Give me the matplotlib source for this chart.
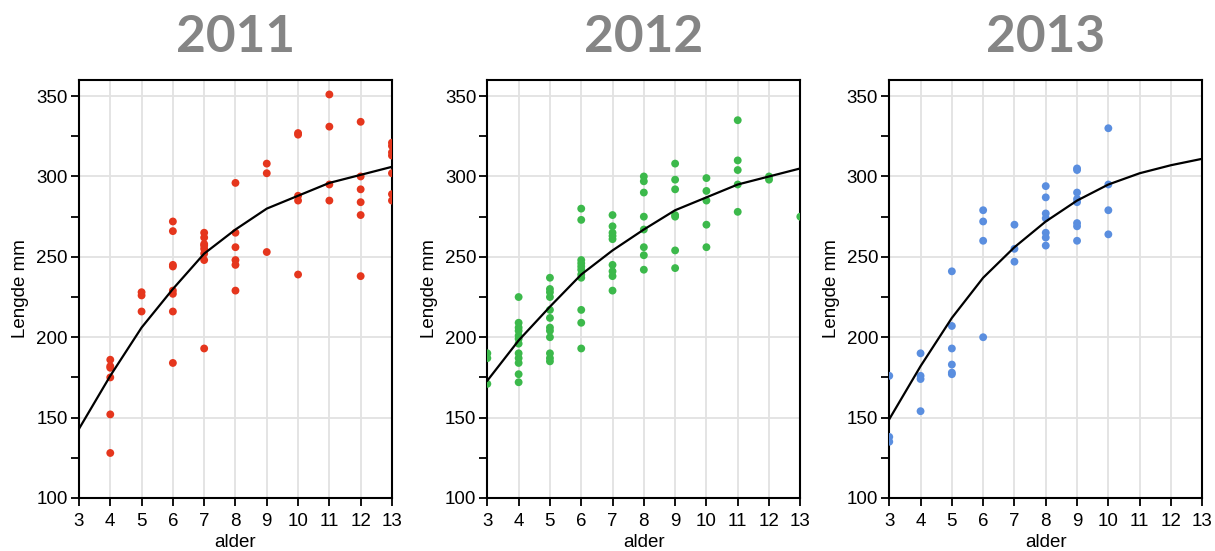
import matplotlib
matplotlib.use('Agg')
import matplotlib.pyplot as plt
from matplotlib.ticker import MultipleLocator

plt.rcParams['font.family'] = ['Liberation Sans', 'DejaVu Sans']

years = ['2011', '2012', '2013']
colors = ['#e5361d', '#3cb94b', '#5a8edf']

fit_age = [3, 4, 5, 6, 7, 8, 9, 10, 11, 12, 13]

# 2011
age_2011 = [4, 4, 4, 4, 4, 4,
             5, 5, 5,
             6, 6, 6, 6, 6, 6, 6, 6,
             7, 7, 7, 7, 7, 7, 7, 7,
             8, 8, 8, 8, 8, 8,
             9, 9, 9,
             10, 10, 10, 10, 10,
             11, 11, 11, 11,
             12, 12, 12, 12, 12, 12,
             13, 13, 13, 13, 13, 13, 13]
len_2011 = [186, 182, 181, 175, 152, 128,
            228, 226, 216,
            272, 266, 245, 244, 229, 227, 216, 184,
            265, 262, 258, 257, 255, 252, 248, 193,
            296, 265, 256, 248, 245, 229,
            308, 302, 253,
            327, 326, 288, 285, 239,
            351, 331, 295, 285,
            334, 300, 292, 284, 276, 238,
            321, 319, 315, 313, 302, 289, 285]
fit_2011 = [143, 176, 206, 230, 252, 267, 280, 288, 296, 301, 306]

# 2012
age_2012 = [3, 3, 3,
            4, 4, 4, 4, 4, 4, 4, 4, 4, 4, 4, 4,
            5, 5, 5, 5, 5, 5, 5, 5, 5, 5, 5, 5,
            6, 6, 6, 6, 6, 6, 6, 6, 6, 6, 6,
            7, 7, 7, 7, 7, 7, 7, 7, 7,
            8, 8, 8, 8, 8, 8, 8, 8,
            9, 9, 9, 9, 9, 9, 9,
            10, 10, 10, 10, 10,
            11, 11, 11, 11, 11,
            12, 12,
            13]
len_2012 = [190, 187, 171,
            225, 209, 206, 204, 201, 199, 196, 190, 187, 184, 177, 172,
            237, 230, 228, 225, 217, 212, 206, 204, 200, 190, 187, 185,
            280, 273, 248, 246, 244, 242, 239, 237, 217, 209, 193,
            276, 269, 265, 263, 261, 245, 241, 238, 229,
            300, 297, 290, 275, 267, 256, 251, 242,
            308, 298, 292, 276, 275, 254, 243,
            299, 291, 285, 270, 256,
            335, 310, 304, 295, 278,
            300, 298,
            275]
fit_2012 = [173, 198, 219, 239, 254, 267, 279, 287, 295, 300, 305]

# 2013
age_2013 = [3, 3, 3,
            4, 4, 4, 4,
            5, 5, 5, 5, 5, 5,
            6, 6, 6, 6,
            7, 7, 7,
            8, 8, 8, 8, 8, 8, 8,
            9, 9, 9, 9, 9, 9, 9, 9,
            10, 10, 10, 10]
len_2013 = [176, 138, 135,
            190, 176, 174, 154,
            241, 207, 193, 183, 178, 177,
            279, 272, 260, 200,
            270, 255, 247,
            294, 287, 277, 274, 265, 262, 257,
            305, 304, 290, 286, 284, 271, 269, 260,
            330, 295, 279, 264]
fit_2013 = [149, 182, 212, 237, 256, 272, 285, 295, 302, 307, 311]

ages = [age_2011, age_2012, age_2013]
lengths = [len_2011, len_2012, len_2013]
fits = [fit_2011, fit_2012, fit_2013]

fig = plt.figure(figsize=(12.15, 5.51), dpi=100)
lefts = [0.065, 0.4011, 0.7319]

for i in range(3):
    ax = fig.add_axes([lefts[i], 0.0962, 0.2576, 0.7586])
    ax.set_xlim(3, 13)
    ax.set_ylim(100, 360)
    ax.xaxis.set_major_locator(MultipleLocator(1))
    ax.yaxis.set_major_locator(MultipleLocator(50))
    ax.yaxis.set_minor_locator(MultipleLocator(25))
    ax.grid(True, which='major', color='#e2e2e2', linewidth=1.3)
    ax.set_axisbelow(True)
    ax.scatter(ages[i], lengths[i], s=32, color=colors[i], edgecolors='none', zorder=3)
    ax.plot(fit_age, fits[i], color='black', linewidth=1.6, zorder=4)
    for sp in ax.spines.values():
        sp.set_linewidth(1.5)
    ax.tick_params(axis='both', which='both', direction='out', width=1.3, length=6,
                   labelsize=13.5, right=False, top=False)
    ax.tick_params(axis='x', pad=5)
    ax.tick_params(axis='y', pad=2)
    ax.set_xlabel('alder', fontsize=13.5, labelpad=3)
    ax.set_ylabel('Lengde mm', fontsize=13.5, labelpad=5)
    ax.set_title(years[i], fontsize=37, color='#858585', pad=20,
                 family=['Lato', 'DejaVu Sans'], fontweight='bold')

fig.savefig('out.png', dpi=100)
